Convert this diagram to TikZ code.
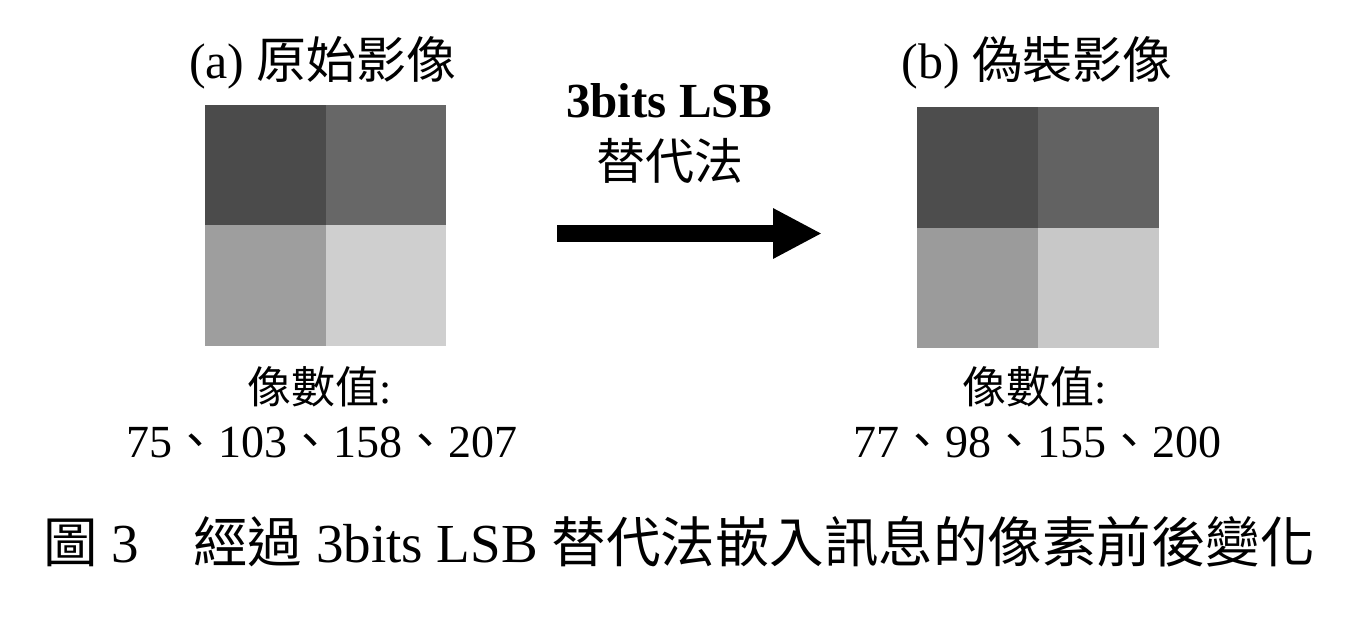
\documentclass[tikz,border=0pt]{standalone}
\usepackage{fontspec}
\setmainfont{Liberation Serif}
\newfontfamily\cjk{Noto Sans CJK TC}
\usetikzlibrary{arrows.meta}
\definecolor{pa1}{RGB}{75,75,75}
\definecolor{pa2}{RGB}{103,103,103}
\definecolor{pa3}{RGB}{158,158,158}
\definecolor{pa4}{RGB}{207,207,207}
\definecolor{pb1}{RGB}{77,77,77}
\definecolor{pb2}{RGB}{98,98,98}
\definecolor{pb3}{RGB}{155,155,155}
\definecolor{pb4}{RGB}{200,200,200}
\tikzset{
  txt/.style={anchor=base, inner sep=0pt, outer sep=0pt},
  ttl/.style={txt, font=\fontsize{50}{60}\selectfont},
  lbl/.style={txt, font=\fontsize{44}{52}\selectfont},
  nums/.style={txt, font=\fontsize{46}{55}\selectfont},
  arrlbl/.style={txt, font=\fontsize{49}{58}\selectfont\bfseries},
  arrcjk/.style={txt, font=\fontsize{49}{58}\selectfont},
  captext/.style={anchor=base west, inner sep=0pt, font=\fontsize{55}{66}\selectfont},
  capcjk/.style={font=\cjk\fontsize{54.5}{66}\selectfont},
  bigarrow/.style={line width=17pt, -{Triangle[length=49pt 0, width=47pt 0]}}
}
\newcommand{\capc}[1]{{\cjk\fontsize{54.5}{66}\selectfont #1}}
\begin{document}
\begin{tikzpicture}[x=1pt, y=-1pt]
\useasboundingbox (0,0) rectangle (1366,621);
\fill[white] (0,0) rectangle (1366,621);
% left image
\fill[pa1] (205,105) rectangle (325.5,225);
\fill[pa2] (325.5,105) rectangle (446,225);
\fill[pa3] (205,225) rectangle (325.5,346);
\fill[pa4] (325.5,225) rectangle (446,346);
% right image
\fill[pb1] (917,107) rectangle (1038,227.5);
\fill[pb2] (1038,107) rectangle (1159,227.5);
\fill[pb3] (917,227.5) rectangle (1038,348);
\fill[pb4] (1038,227.5) rectangle (1159,348);
% titles
\node[ttl] (ta) at (323,78) {(a) {\cjk 原始影像}};
\node[ttl] (tb) at (1037,78) {(b) {\cjk 偽裝影像}};
% arrow
\node[arrlbl] (al1) at (669,117) {3bits LSB};
\node[arrcjk] (al2) at (670,179) {\cjk 替代法};
\coordinate (as) at (557,233.5);
\coordinate (ae) at (822,233.5);
\draw[bigarrow] (as) -- (ae);
% values
\node[lbl] (la) at (320,403) {{\cjk 像數值}:};
\node[nums] (na) at (322,457) {75{\cjk 、}103{\cjk 、}158{\cjk 、}207};
\node[lbl] (lb) at (1035,403) {{\cjk 像數值}:};
\node[nums] (nb) at (1037,457) {77{\cjk 、}98{\cjk 、}155{\cjk 、}200};
% caption
\node[captext] (cp) at (43,562) {\capc{圖} 3\capc{　經過} 3bits LSB \capc{替代法嵌入訊息的像素前後變化}};
\end{tikzpicture}
\end{document}
